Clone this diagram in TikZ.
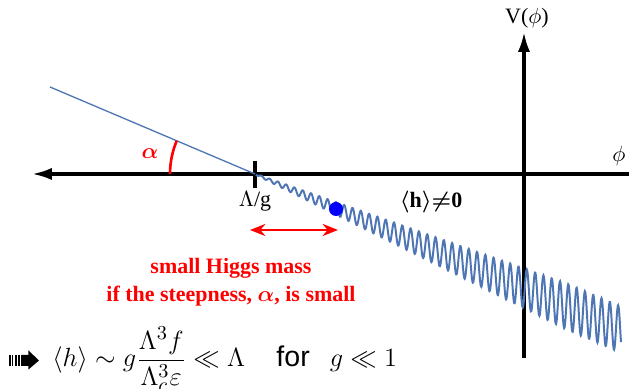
\documentclass[tikz,border=0pt]{standalone}
\usepackage{fontspec}
\setmainfont{Liberation Serif}
\newfontfamily\forsans{Liberation Sans}
\usepackage{amsmath}
\usetikzlibrary{arrows.meta}
\definecolor{wavecol}{RGB}{79,118,180}
\definecolor{hotred}{RGB}{255,0,0}
\definecolor{ballblue}{RGB}{0,0,255}
\begin{document}
\begin{tikzpicture}[x=0.016cm,y=-0.016cm,
  axis/.style={line width=1.5pt, -{Latex[length=9pt,width=5.5pt]}},
  redtext/.style={text=hotred, font=\bfseries\boldmath},
  ball/.style={circle, fill=ballblue, inner sep=0pt, minimum size=0.224cm}]
\useasboundingbox (0,0) rectangle (629,389);
% axes
\coordinate (hr) at (629,174);
\coordinate (hl) at (32,174);
\coordinate (vb) at (524,358);
\coordinate (vt) at (524,32);
\draw[axis] (hr) -- (hl);
\draw[axis] (vb) -- (vt);
\node (vlab) at (527,18) {V($\phi$)};
\node (philab) at (619,156) {$\phi$};
% tick and slope
\coordinate (lg) at (255,174);
\coordinate (top) at (50,87);
\draw[line width=1.5pt] (255,161) -- (255,188);
\node (lglab) at (255,201) {$\Lambda$/g};
\draw[wavecol, line width=0.6pt] (top) -- (lg);
\draw[hotred, line width=1.2pt] (170,174) arc[start angle=180, end angle=203, radius=85];
\node[redtext] (alab) at (150,154) {$\alpha$};
% wiggly potential
\draw[wavecol, line width=0.9pt] plot[domain=1:366, samples=900]
  ({255+\x}, {174+0.425*\x+min(0.072*\x+0.5,23)*sin(43.37*\x)});
\node[ball] (h) at (336,209) {};
\node[font=\bfseries\boldmath] (vev) at (431,202) {$\langle$h$\rangle${$\neq$}0};
% range
\coordinate (rl) at (250,230);
\coordinate (rr) at (338,230);
\draw[hotred, line width=1.1pt, {Stealth[length=7pt,width=5.5pt]}-{Stealth[length=7pt,width=5.5pt]}] (rl) -- (rr);
\node[redtext] (m1) at (231,268) {small Higgs mass};
\node[redtext] (m2) at (231,296) {if the steepness, $\alpha$, is small};
% conclusion
\fill (9.5,355) rectangle (10.6,366);
\fill (12.2,355) rectangle (13.5,366);
\fill (15,355) rectangle (16.6,366);
\fill (18,355) rectangle (20,366);
\fill (21.2,355) rectangle (28.5,366) (28.5,350.5) -- (39,360.5) -- (28.5,369.5) -- cycle;
\node[anchor=base west, inner sep=0pt, font=\fontsize{13}{15}\selectfont] (res) at (52,367)
  {$\langle h\rangle \sim g\dfrac{\Lambda^3 f}{\Lambda_c^3\varepsilon}\ll\Lambda$\hspace{1.1em}{\forsans for}\hspace{0.7em}$g\ll 1$};
\end{tikzpicture}
\end{document}
